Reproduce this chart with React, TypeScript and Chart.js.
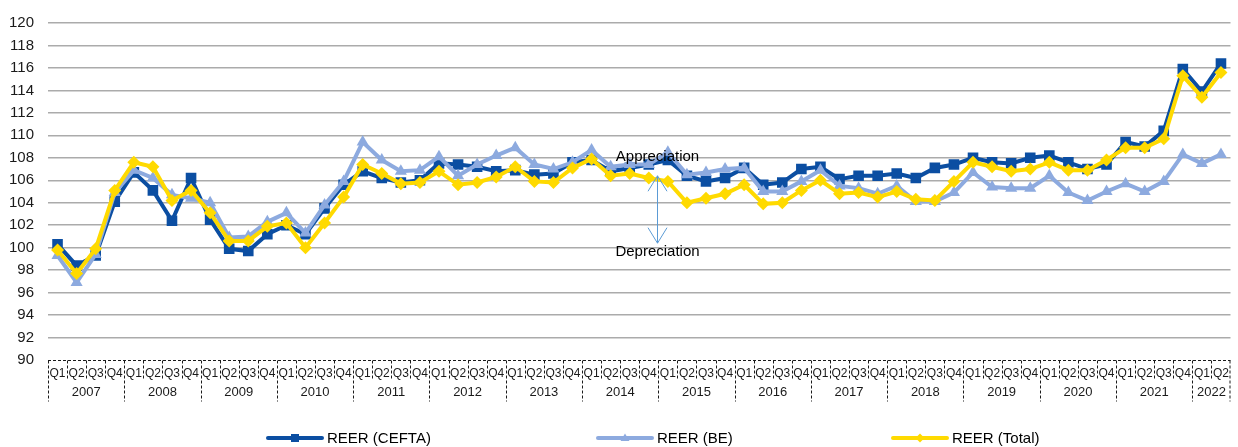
import React, { useEffect, useRef } from "react";
import { Chart, registerables } from "chart.js";

Chart.register(...registerables);

const FONT = "'Liberation Sans', Arial, sans-serif";

const yearLabels = ["2007", "2008", "2009", "2010", "2011", "2012", "2013", "2014", "2015", "2016", "2017", "2018", "2019", "2020", "2021", "2022"];
const quartersPerYear = [4, 4, 4, 4, 4, 4, 4, 4, 4, 4, 4, 4, 4, 4, 4, 2];
const quarterNames = ["Q1", "Q2", "Q3", "Q4"];

const reerCefta = [
  100.3, 98.4, 99.3, 104.1,
  106.7, 105.1, 102.4, 106.2,
  102.5, 99.9, 99.7, 101.2,
  102.0, 101.2, 103.5, 105.6,
  106.8, 106.2, 105.8, 106.0,
  107.5, 107.4, 107.2, 106.8,
  106.9, 106.5, 106.6, 107.6,
  107.8, 106.8, 107.1, 107.4,
  107.8, 106.4, 105.9, 106.2,
  107.1, 105.6, 105.8, 107.0,
  107.2, 106.1, 106.4, 106.4,
  106.6, 106.2, 107.1, 107.4,
  108.0, 107.6, 107.5, 108.0,
  108.2, 107.6, 107.0, 107.4,
  109.4, 109.0, 110.4, 115.9,
  113.9, 116.4,
];

const reerBe = [
  99.3, 96.9, 99.4, 104.9,
  106.9, 106.2, 104.7, 104.4,
  104.0, 100.9, 101.0, 102.3,
  103.1, 101.3, 103.8, 105.9,
  109.4, 107.8, 106.8, 106.9,
  108.1, 106.4, 107.4, 108.2,
  108.9, 107.4, 107.0, 107.6,
  108.7, 107.2, 107.4, 107.4,
  108.5, 106.5, 106.7, 107.0,
  107.1, 105.0, 105.0, 105.9,
  106.9, 105.5, 105.3, 104.8,
  105.5, 104.1, 104.1, 104.9,
  106.7, 105.4, 105.3, 105.3,
  106.4, 104.9, 104.2, 105.0,
  105.7, 105.0, 105.9, 108.3,
  107.5, 108.3,
];

const reerTotal = [
  99.8, 97.7, 99.9, 105.1,
  107.6, 107.2, 104.2, 105.1,
  103.1, 100.6, 100.6, 101.9,
  102.2, 100.0, 102.2, 104.5,
  107.4, 106.6, 105.7, 105.8,
  106.8, 105.6, 105.8, 106.3,
  107.2, 105.9, 105.8, 107.1,
  107.9, 106.4, 106.6, 106.2,
  105.9, 104.0, 104.4, 104.8,
  105.6, 103.9, 104.0, 105.1,
  106.0, 104.8, 104.9, 104.5,
  105.0, 104.3, 104.2, 105.9,
  107.6, 107.2, 106.8, 107.0,
  107.6, 106.9, 106.9, 107.8,
  108.9, 108.9, 109.7, 115.3,
  113.4, 115.6,
];

const seriesNames = ["REER (CEFTA)", "REER (BE)", "REER (Total)"];
const Y_MIN = 90;
const Y_MAX = 120;
const Y_STEP = 2;

// annotation anchor (category index / value space)
const ANNOT_X = 31.45;
const APPRECIATION_Y = 108.1;
const DEPRECIATION_Y = 99.6;
const ARROW_TOP = 106.4;
const ARROW_BOTTOM = 100.4;

const quarterLabels: string[] = [];
yearLabels.forEach((_, yi) => {
  for (let q = 0; q < quartersPerYear[yi]; q++) quarterLabels.push(quarterNames[q]);
});

const axisPlugin = {
  id: "multiLevelAxis",
  afterDraw(chart: any) {
    const { ctx, chartArea } = chart;
    const x = chart.scales.x;
    const step = x.getPixelForValue(1) - x.getPixelForValue(0);
    const bottom = Math.round(chartArea.bottom) + 0.5;
    ctx.save();
    ctx.strokeStyle = "#1a1a1a";
    ctx.lineWidth = 1;
    ctx.setLineDash([3, 2]);
    ctx.beginPath();
    ctx.moveTo(chartArea.left, bottom);
    ctx.lineTo(chartArea.right, bottom);
    ctx.stroke();

    const yearStarts: number[] = [];
    let acc = 0;
    quartersPerYear.forEach((c) => {
      yearStarts.push(acc);
      acc += c;
    });
    yearStarts.push(acc);

    ctx.beginPath();
    for (let i = 0; i <= quarterLabels.length; i++) {
      let px = Math.round(x.getPixelForValue(i) - step / 2) + 0.5;
      if (px > chartArea.right) px = chartArea.right - 0.5;
      const isYear = yearStarts.includes(i);
      ctx.moveTo(px, bottom);
      ctx.lineTo(px, bottom + (isYear ? 41 : 18));
    }
    ctx.stroke();
    ctx.setLineDash([]);

    ctx.fillStyle = "#1a1a1a";
    ctx.font = `13px ${FONT}`;
    ctx.textAlign = "center";
    ctx.textBaseline = "middle";
    yearLabels.forEach((yl, yi) => {
      const a = x.getPixelForValue(yearStarts[yi]) - step / 2;
      const b = x.getPixelForValue(yearStarts[yi + 1]) - step / 2;
      ctx.fillText(yl, (a + b) / 2, chartArea.bottom + 32);
    });

    // annotation
    const y = chart.scales.y;
    const ax = Math.round(x.getPixelForValue(ANNOT_X)) + 0.5;
    const top = y.getPixelForValue(ARROW_TOP);
    const bot = y.getPixelForValue(ARROW_BOTTOM);
    ctx.strokeStyle = "#5B9BD5";
    ctx.lineWidth = 1;
    ctx.beginPath();
    ctx.moveTo(ax, top);
    ctx.lineTo(ax, bot);
    ctx.moveTo(ax - 9.5, top + 15.5);
    ctx.lineTo(ax, top);
    ctx.lineTo(ax + 9.5, top + 15.5);
    ctx.moveTo(ax - 9.5, bot - 15.5);
    ctx.lineTo(ax, bot);
    ctx.lineTo(ax + 9.5, bot - 15.5);
    ctx.stroke();
    ctx.fillStyle = "#000";
    ctx.font = `15px ${FONT}`;
    ctx.fillText("Appreciation", ax, y.getPixelForValue(APPRECIATION_Y));
    ctx.fillText("Depreciation", ax, y.getPixelForValue(DEPRECIATION_Y));

    // legend
    const legendX = [268, 598, 893];
    const ly = 438;
    chart.data.datasets.forEach((ds: any, di: number) => {
      const lx = legendX[di];
      ctx.strokeStyle = ds.borderColor;
      ctx.lineWidth = 4;
      ctx.lineCap = "round";
      ctx.beginPath();
      ctx.moveTo(lx, ly);
      ctx.lineTo(lx + 54, ly);
      ctx.stroke();
      ctx.lineCap = "butt";
      const mx = lx + 27;
      ctx.fillStyle = ds.pointBackgroundColor;
      ctx.beginPath();
      if (ds.pointStyle === "rect") {
        ctx.rect(mx - 4, ly - 4, 8, 8);
      } else if (ds.pointStyle === "triangle") {
        ctx.moveTo(mx, ly - 4.5);
        ctx.lineTo(mx + 4.5, ly + 3);
        ctx.lineTo(mx - 4.5, ly + 3);
        ctx.closePath();
      } else {
        ctx.moveTo(mx, ly - 4.5);
        ctx.lineTo(mx + 4.5, ly);
        ctx.lineTo(mx, ly + 4.5);
        ctx.lineTo(mx - 4.5, ly);
        ctx.closePath();
      }
      ctx.fill();
      ctx.fillStyle = "#000";
      ctx.textAlign = "left";
      ctx.font = `15px ${FONT}`;
      ctx.fillText(ds.label, lx + 59, ly + 1);
    });
    ctx.restore();
  },
};

export default function App() {
  const canvasRef = useRef<HTMLCanvasElement | null>(null);

  useEffect(() => {
    if (!canvasRef.current) return;
    Chart.defaults.font.family = FONT;
    const chart = new Chart(canvasRef.current, {
      type: "line",
      data: {
        labels: quarterLabels,
        datasets: [
          {
            label: seriesNames[0],
            data: reerCefta,
            borderColor: "#0B4EA2",
            backgroundColor: "#0B4EA2",
            pointBackgroundColor: "#0B4EA2",
            pointBorderColor: "#0B4EA2",
            pointStyle: "rect",
            pointRadius: 7.5,
            pointBorderWidth: 0,
            borderWidth: 4,
            tension: 0,
            order: 3,
          },
          {
            label: seriesNames[1],
            data: reerBe,
            borderColor: "#8DAADF",
            backgroundColor: "#8DAADF",
            pointBackgroundColor: "#8DAADF",
            pointBorderColor: "#8DAADF",
            pointStyle: "triangle",
            pointRadius: 7,
            pointBorderWidth: 0,
            borderWidth: 4,
            tension: 0,
            order: 2,
          },
          {
            label: seriesNames[2],
            data: reerTotal,
            borderColor: "#FFDA00",
            backgroundColor: "#FFDA00",
            pointBackgroundColor: "#FFDA00",
            pointBorderColor: "#FFDA00",
            pointStyle: "rectRot",
            pointRadius: 6.5,
            pointBorderWidth: 0,
            borderWidth: 4,
            tension: 0,
            order: 1,
          },
        ],
      },
      options: {
        responsive: false,
        animation: false,
        events: [],
        layout: { padding: { top: 17, right: 0, left: 0, bottom: 0 } },
        plugins: {
          legend: { display: false },
          tooltip: { enabled: false },
        },
        scales: {
          x: {
            type: "category",
            offset: true,
            grid: { display: false, drawTicks: false },
            border: { display: false },
            ticks: {
              autoSkip: false,
              maxRotation: 0,
              minRotation: 0,
              padding: 6,
              color: "#1a1a1a",
              font: { size: 12, family: FONT },
            },
            afterFit: (s: any) => {
              s.height = 87;
            },
          },
          y: {
            min: Y_MIN,
            max: Y_MAX,
            ticks: {
              stepSize: Y_STEP,
              padding: 14,
              color: "#1a1a1a",
              font: { size: 15, family: FONT },
            },
            grid: {
              drawTicks: false,
              color: (c: any) => (c.tick && c.tick.value === Y_MIN ? "rgba(0,0,0,0)" : "#ABABAB"),
              lineWidth: 1.5,
            },
            border: { display: false },
            afterFit: (s: any) => {
              s.width = 48;
            },
          },
        },
      },
      plugins: [axisPlugin],
    });
    return () => chart.destroy();
  }, []);

  return (
    <div style={{ position: "absolute", left: 0, top: 0, width: 1238, height: 447, background: "#fff" }}>
      <canvas ref={canvasRef} width={1238} height={447} />
    </div>
  );
}
